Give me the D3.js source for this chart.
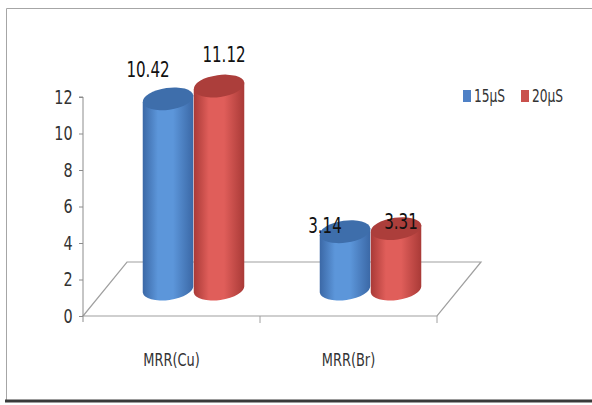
<!DOCTYPE html>
<html>
<head>
<meta charset="utf-8">
<script src="https://cdn.jsdelivr.net/npm/d3@7"></script>
<style>
  body { margin: 0; background: #fff; }
  svg text { font-family: "DejaVu Sans Condensed", "DejaVu Sans", sans-serif; font-stretch: condensed; }
</style>
</head>
<body>
<div id="chart"></div>
<script>
const categories = ['MRR(Cu)', 'MRR(Br)']
const series = ['15μS', '20μS']
const values15 = [10.42, 3.14]
const values20 = [11.12, 3.31]
const yTicks = [0, 2, 4, 6, 8, 10, 12]

const width = 592
const height = 405
const depth = {x: 44, y: -54}
const narrowK = 0.8
const tilt = -8
const colors = {
  '15μS': {dark: '#3b68a6', mid: '#5c96da', top: '#3e6eab', key: '#4f81c6'},
  '20μS': {dark: '#a93a37', mid: '#e05e5a', top: '#ac3e3b', key: '#c9504c'}
}
const labelShift = {'15μS': -20, '20μS': 5}

const svg = d3.select('#chart').append('svg')
  .attr('width', width)
  .attr('height', height)

// frame
svg.append('path')
  .attr('d', `M592,8.5H6.5V400`)
  .attr('fill', 'none')
  .attr('stroke', '#a6a6a6')
svg.append('line')
  .attr('x1', 5).attr('x2', 592).attr('y1', 401).attr('y2', 401)
  .attr('stroke', '#3a3a3a').attr('stroke-width', 3)

const y = d3.scaleLinear().domain([0, 12]).range([316, 97])
const x = d3.scaleBand().domain(categories).range([83, 437])
const inner = d3.scaleBand().domain(series).range([0, x.bandwidth()]).paddingOuter(0.735).paddingInner(0)
const labelY = d3.scaleLinear().domain([0, 12]).range([300, 43])

// floor
const x0 = x.range()[0], x1 = x.range()[1], y0 = y(0)
svg.append('path')
  .attr('d', `M${x0},${y0}L${x1},${y0}L${x1 + depth.x},${y0 + depth.y}L${x0 + depth.x},${y0 + depth.y}Z`)
  .attr('fill', 'none')
  .attr('stroke', '#a0a0a0')
  .attr('stroke-width', 1.2)

// y axis
const yAxis = svg.append('g')
  .attr('transform', `translate(${x0},0)`)
  .call(d3.axisLeft(y).tickValues(yTicks).tickSize(4).tickPadding(9))
yAxis.select('.domain').attr('stroke', '#8c8c8c').attr('d', `M-4,${y(12)}H0V${y0 + 6}`)
yAxis.selectAll('.tick line').attr('stroke', '#8c8c8c')
yAxis.selectAll('text')
  .attr('font-size', 20).attr('fill', '#333')
  .attr('transform', `scale(${narrowK},1)`)

// x axis
const xAxis = svg.append('g')
  .attr('transform', `translate(0,${y0})`)
  .call(d3.axisBottom(x).tickSize(0).tickPadding(37))
xAxis.select('.domain').remove()
xAxis.selectAll('text')
  .attr('font-size', 18).attr('fill', '#333')
  .attr('transform', `scale(${narrowK},1)`)
xAxis.selectAll('.sep')
  .data([x1 - x.bandwidth(), x1])
  .join('line')
  .attr('x1', d => d).attr('x2', d => d)
  .attr('y1', 0).attr('y2', 7)
  .attr('stroke', '#a0a0a0')

// gradients
const defs = svg.append('defs')
series.forEach((s, i) => {
  const g = defs.append('linearGradient').attr('id', 'grad' + i)
  g.append('stop').attr('offset', '0%').attr('stop-color', colors[s].dark)
  g.append('stop').attr('offset', '30%').attr('stop-color', colors[s].mid)
  g.append('stop').attr('offset', '60%').attr('stop-color', colors[s].mid)
  g.append('stop').attr('offset', '100%').attr('stop-color', colors[s].dark)
})

const bars = []
categories.forEach((c, ci) => {
  bars.push({cat: c, s: series[0], si: 0, v: values15[ci]})
  bars.push({cat: c, s: series[1], si: 1, v: values20[ci]})
})

const rx = inner.bandwidth() / 2
const ry = 11
const rad = tilt * Math.PI / 180
const ex = rx * Math.cos(rad), ey = rx * Math.sin(rad)
const g = svg.append('g')
bars.forEach(b => {
  const cx = x(b.cat) + inner(b.s) + rx + depth.x / 2
  const yb = y(0) + depth.y / 2
  const yt = y(b.v) + depth.y / 2
  g.append('path')
    .attr('d', `M${cx - ex},${yt - ey}L${cx - ex},${yb - ey}A${rx},${ry} ${tilt} 0 0 ${cx + ex},${yb + ey}L${cx + ex},${yt + ey}Z`)
    .attr('fill', `url(#grad${b.si})`)
  g.append('ellipse')
    .attr('cx', 0).attr('cy', 0)
    .attr('rx', rx).attr('ry', ry)
    .attr('transform', `translate(${cx},${yt}) rotate(${tilt})`)
    .attr('fill', colors[b.s].top)
  svg.append('text')
    .attr('transform', `translate(${cx + labelShift[b.s]},${labelY(b.v)}) scale(${narrowK},1)`)
    .attr('text-anchor', 'middle')
    .attr('font-size', 21)
    .attr('fill', '#111')
    .text(b.v.toFixed(2))
})

// legend
const legend = svg.append('g').attr('transform', 'translate(463,90)')
series.forEach((s, i) => {
  const lg = legend.append('g').attr('transform', `translate(${i * 58},0)`)
  lg.append('rect').attr('width', 8).attr('height', 12).attr('fill', colors[s].key)
  lg.append('text')
    .attr('transform', `translate(11,12) scale(${narrowK},1)`)
    .attr('font-size', 17).attr('fill', '#333').text(s)
})
</script>
</body>
</html>
